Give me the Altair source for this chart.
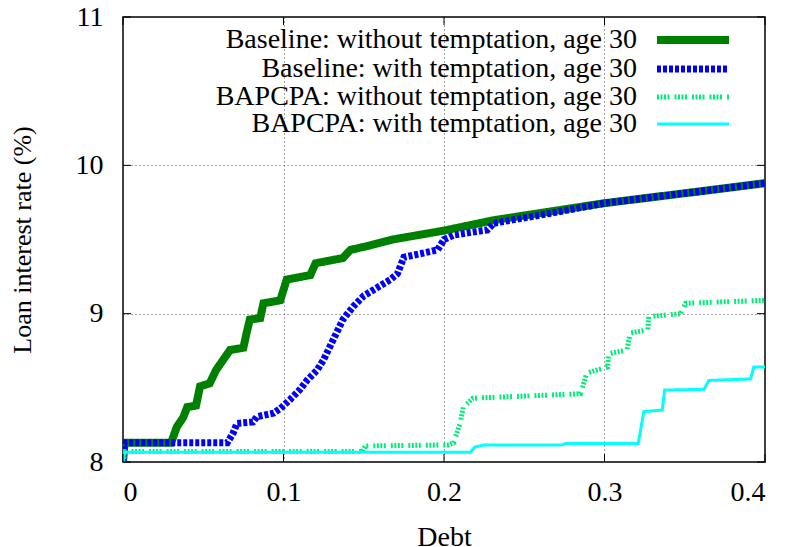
import altair as alt
import pandas as pd

# ---- data ----
series_names = [
    "Baseline: without temptation, age 30",
    "Baseline: with temptation, age 30",
    "BAPCPA: without temptation, age 30",
    "BAPCPA: with temptation, age 30",
]
series_colors = ["#008000", "#0000ff", "#00ee77", "#00ffff"]

green_x = [0, 0.001, 0.030, 0.0335, 0.0375, 0.040, 0.0455, 0.048, 0.054, 0.058, 0.0625, 0.0667,
           0.075, 0.077, 0.079, 0.0855, 0.0875, 0.098, 0.102, 0.1167, 0.12, 0.137, 0.1417,
           0.154, 0.168, 0.2, 0.231, 0.273, 0.30, 0.356, 0.4]
green_y = [8.0, 8.13, 8.13, 8.236, 8.30, 8.37, 8.38, 8.51, 8.53, 8.62, 8.69, 8.755,
           8.77, 8.87, 8.96, 8.97, 9.07, 9.09, 9.23, 9.26, 9.34, 9.375, 9.43,
           9.46, 9.50, 9.56, 9.63, 9.70, 9.745, 9.82, 9.88]

blue_x = [0, 0.001, 0.065, 0.0686, 0.071, 0.081, 0.0834, 0.094, 0.098, 0.104, 0.11, 0.1146,
          0.121, 0.125, 0.129, 0.133, 0.137, 0.1436, 0.15, 0.156, 0.1666, 0.171, 0.175,
          0.196, 0.2, 0.206, 0.227, 0.231, 0.268, 0.30, 0.356, 0.4]
blue_y = [8.0, 8.13, 8.13, 8.195, 8.26, 8.27, 8.305, 8.33, 8.36, 8.42, 8.485, 8.55,
          8.62, 8.69, 8.78, 8.87, 8.96, 9.05, 9.12, 9.16, 9.23, 9.27, 9.38,
          9.43, 9.50, 9.53, 9.565, 9.61, 9.68, 9.745, 9.82, 9.88]

lgreen_x = [0, 0.001, 0.149, 0.151, 0.203, 0.206, 0.21, 0.212, 0.218, 0.285, 0.289, 0.302,
            0.3025, 0.314, 0.316, 0.327, 0.3275, 0.3475, 0.3506, 0.4]
lgreen_y = [8.0, 8.07, 8.07, 8.108, 8.115, 8.13, 8.26, 8.37, 8.43, 8.46, 8.60, 8.64,
            8.73, 8.755, 8.87, 8.89, 8.98, 9.0, 9.07, 9.09]

cyan_x = [0, 0.001, 0.2165, 0.219, 0.225, 0.273, 0.276, 0.321, 0.3245, 0.336, 0.3375,
          0.362, 0.365, 0.391, 0.393, 0.4]
cyan_y = [8.0, 8.065, 8.065, 8.10, 8.115, 8.115, 8.125, 8.125, 8.34, 8.35, 8.485,
          8.49, 8.55, 8.56, 8.64, 8.64]

x_ticks = [0, 0.1, 0.2, 0.3, 0.4]
y_ticks = [8, 9, 10, 11]

FONT = "Liberation Serif"
W, H = 642, 445
TICK = 8

xs = [green_x, blue_x, lgreen_x, cyan_x]
ys = [green_y, blue_y, lgreen_y, cyan_y]
widths = [8, 7, 5, 3]
dashes = [[1, 0], [4, 2], [2, 1.5, 2, 1.5, 2, 1.5, 2, 5], [1, 0]]

x_scale = alt.Scale(domain=[0, 0.4], nice=False, zero=False)
y_scale = alt.Scale(domain=[8, 11], nice=False, zero=False)
x_axis = alt.Axis(values=x_ticks, title="Debt", format="g")
y_axis = alt.Axis(values=y_ticks, title="Loan interest rate (%)", format="d")

layers = []
for i, name in enumerate(series_names):
    df = pd.DataFrame({"debt": xs[i], "rate": ys[i], "series": name})
    line = alt.Chart(df).mark_line(
        color=series_colors[i], strokeWidth=widths[i], strokeDash=dashes[i],
        strokeCap="butt", strokeJoin="miter", clip=True
    ).encode(
        x=alt.X("debt:Q", scale=x_scale, axis=x_axis),
        y=alt.Y("rate:Q", scale=y_scale, axis=y_axis),
    )
    layers.append(line)

# inward ticks on all four sides (gnuplot style)
xt = pd.DataFrame({"t": x_ticks})
yt = pd.DataFrame({"t": y_ticks})
tick_layers = [
    alt.Chart(xt).mark_rule(color="black", strokeWidth=1).encode(
        x=alt.X("t:Q", scale=x_scale, axis=x_axis), y=alt.value(H), y2=alt.value(H - TICK)),
    alt.Chart(xt).mark_rule(color="black", strokeWidth=1).encode(
        x=alt.X("t:Q", scale=x_scale, axis=x_axis), y=alt.value(0), y2=alt.value(TICK)),
    alt.Chart(yt).mark_rule(color="black", strokeWidth=1).encode(
        y=alt.Y("t:Q", scale=y_scale, axis=y_axis), x=alt.value(0), x2=alt.value(TICK)),
    alt.Chart(yt).mark_rule(color="black", strokeWidth=1).encode(
        y=alt.Y("t:Q", scale=y_scale, axis=y_axis), x=alt.value(W - TICK), x2=alt.value(W)),
]

# custom legend (text right-aligned, sample line on the right)
legend_layers = []
row_y = [23, 52, 80, 107]
for i, name in enumerate(series_names):
    ld = pd.DataFrame({"label": [name]})
    legend_layers.append(
        alt.Chart(ld).mark_text(align="right", baseline="middle", font=FONT, fontSize=28,
                                color="black").encode(
            x=alt.value(514), y=alt.value(row_y[i]), text="label:N")
    )
    legend_layers.append(
        alt.Chart(ld).mark_rule(color=series_colors[i], strokeWidth=widths[i],
                                strokeDash=dashes[i], strokeCap="butt").encode(
            x=alt.value(534), x2=alt.value(606), y=alt.value(row_y[i]))
    )

chart = alt.layer(*layers, *tick_layers, *legend_layers).properties(
    width=W, height=H,
    autosize=alt.AutoSizeParams(type="none"),
    padding={"left": 115, "top": 9, "right": 12, "bottom": 84},
).configure_view(
    stroke="black", strokeWidth=1.5
).configure_axis(
    grid=True, gridColor="#444444", gridDash=[1, 3], gridWidth=1,
    ticks=False, domain=False,
    labelFont=FONT, labelFontSize=28, labelColor="black",
    titleFont=FONT, titleFontSize=28, titleColor="black", titleFontWeight="normal",
).configure_axisX(
    labelPadding=16, titlePadding=17,
).configure_axisY(
    labelPadding=20, titlePadding=40, titleFontSize=26,
)

chart.save("out.html", embed_options={"renderer": "svg", "actions": False})
